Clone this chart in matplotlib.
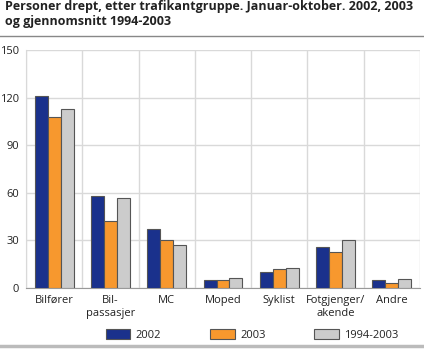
import matplotlib
matplotlib.use("Agg")
import matplotlib.pyplot as plt
import numpy as np

categories = ["Bilfører", "Bil-\npassasjer", "MC", "Moped", "Syklist", "Fotgjenger/\nakende", "Andre"]
series_names = ["2002", "2003", "1994-2003"]
v2002 = [121, 58, 37, 5, 10, 26, 5]
v2003 = [108, 42, 30, 5, 12, 23, 3]
vavg = [113, 57, 27, 6, 12.5, 30, 5.5]
yticks = [0, 30, 60, 90, 120, 150]

colors = ["#1a318c", "#f7982e", "#cccccc"]

plt.rcParams['font.family'] = ['Open Sans', 'DejaVu Sans']

W, H = 424, 350
fig = plt.figure(figsize=(W/100, H/100), dpi=100)

ax = fig.add_axes([26/W, 1-288/H, (420-26)/W, (288-50)/H])
x = np.arange(len(categories))
bw = 0.23
for i, (vals, c) in enumerate(zip([v2002, v2003, vavg], colors)):
    ax.bar(x + (i-1)*bw, vals, bw, color=c, edgecolor="#555555", linewidth=0.8,
           label=series_names[i], zorder=3)

ax.set_xlim(-0.5, len(categories)-0.5)
ax.set_ylim(0, 150)
ax.set_yticks(yticks)
ax.set_xticks(np.arange(len(categories)+1)-0.5, minor=True)
ax.set_xticks(x)
ax.set_xticklabels(categories, fontsize=8, color="#222222", linespacing=1.3)
ax.tick_params(axis='y', labelsize=8, colors="#222222", length=0, pad=5)
ax.tick_params(axis='x', which='both', length=0, pad=5)
ax.grid(True, axis='y', color="#d9d9d9", linewidth=1, zorder=0)
ax.grid(True, axis='x', which='minor', color="#d9d9d9", linewidth=1, zorder=0)
ax.grid(False, axis='x', which='major')
for s in ax.spines.values():
    s.set_visible(False)
ax.spines['bottom'].set_visible(True)
ax.spines['bottom'].set_color("#999999")
ax.spines['left'].set_visible(True)
ax.spines['left'].set_color("#d9d9d9")

fig.text(5/W, 1-14/H, "Personer drept, etter trafikantgruppe. Januar-oktober. 2002, 2003\nog gjennomsnitt 1994-2003",
         fontsize=9, fontweight='bold', color="#222222", va='center', ha='left', linespacing=1.25)
fig.add_artist(plt.Line2D([0, 1], [1-36/H, 1-36/H], color="#888888", linewidth=1))
fig.add_artist(plt.Line2D([0, 1], [1-346/H, 1-346/H], color="#bbbbbb", linewidth=2.5))

handles, labels = ax.get_legend_handles_labels()
leg = fig.legend(handles, labels, loc='center', bbox_to_anchor=(0.595, 1-335/H), ncol=3,
                 frameon=False, fontsize=8, handlelength=2.2, handleheight=1.0,
                 columnspacing=4.4, handletextpad=0.5)
for t in leg.get_texts():
    t.set_color("#222222")

fig.savefig("out.png", dpi=100)
